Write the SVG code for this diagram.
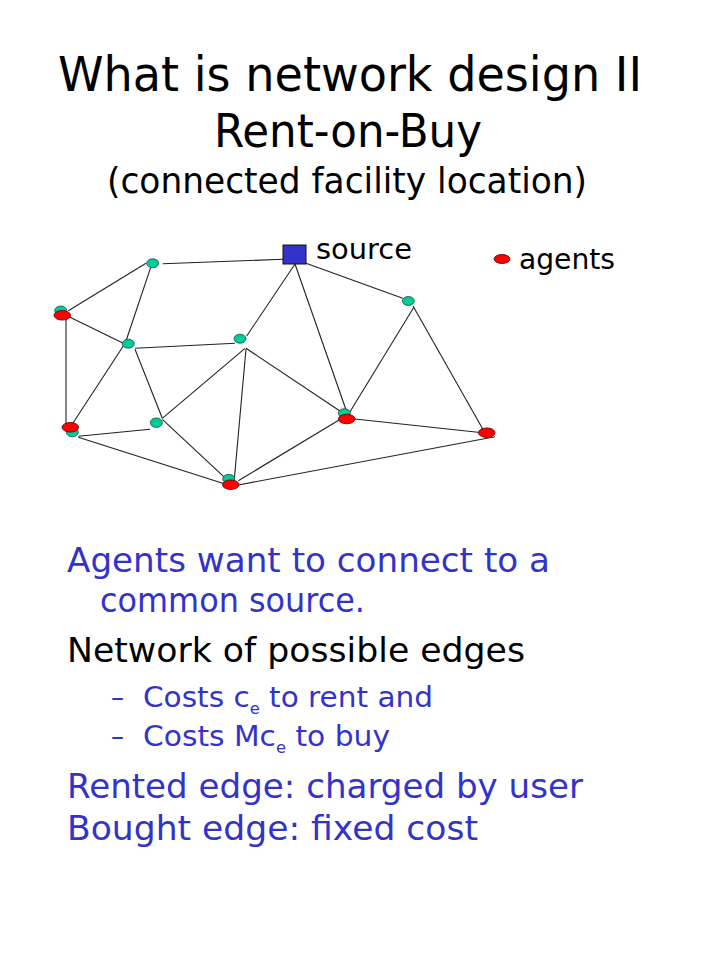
<svg xmlns="http://www.w3.org/2000/svg" width="720" height="960" viewBox="0 0 720 960">
<style>
  text { font-family: "DejaVu Sans", "Liberation Sans", sans-serif; }
  .title { fill: #000; }
  .blue { fill: #3333CC; }
  .black { fill: #000; }
  .edge { stroke: #222; stroke-width: 1.1; fill: none; }
  .g { fill: #00CC99; stroke: #1a4d3d; stroke-width: 0.8; }
  .r { fill: #FF0000; stroke: #550000; stroke-width: 0.8; }
  .src { fill: #3333CC; stroke: #111; stroke-width: 1; }
  .sub { font-size: 16px; }
</style>
<rect width="720" height="960" fill="#fff"/>

<g id="title">
  <text class="title" x="58" y="91" font-size="48" textLength="584" lengthAdjust="spacingAndGlyphs">What is network design II</text>
  <text class="title" x="214" y="147" font-size="46" textLength="268" lengthAdjust="spacingAndGlyphs">Rent-on-Buy</text>
  <text class="title" x="107" y="193" font-size="35" textLength="480" lengthAdjust="spacingAndGlyphs">(connected facility location)</text>
</g>

<g id="connectors">
  <line class="edge" x1="162.7" y1="263.7" x2="283" y2="259.3"/>
  <line class="edge" x1="68.3" y1="310.7" x2="146" y2="263.3"/>
  <line class="edge" x1="150.7" y1="267.3" x2="126" y2="341"/>
  <line class="edge" x1="70" y1="317.3" x2="123.3" y2="343.3"/>
  <line class="edge" x1="66" y1="317.3" x2="66" y2="425"/>
  <line class="edge" x1="135" y1="348.3" x2="235" y2="343.3"/>
  <line class="edge" x1="123.3" y1="346" x2="71.7" y2="425"/>
  <line class="edge" x1="135" y1="349.3" x2="162.3" y2="418.3"/>
  <line class="edge" x1="162.3" y1="418.3" x2="245" y2="348.3"/>
  <line class="edge" x1="162.3" y1="419.3" x2="226.7" y2="479.3"/>
  <line class="edge" x1="246" y1="349" x2="234.3" y2="479.3"/>
  <line class="edge" x1="246.7" y1="336" x2="295" y2="264"/>
  <line class="edge" x1="78.3" y1="436.3" x2="150" y2="429.3"/>
  <line class="edge" x1="78.3" y1="437.3" x2="222.7" y2="483.3"/>
  <line class="edge" x1="295" y1="264" x2="346.7" y2="411.7"/>
  <line class="edge" x1="246" y1="348.3" x2="343.3" y2="413.3"/>
  <line class="edge" x1="306" y1="263.3" x2="402.7" y2="298.3"/>
  <line class="edge" x1="414" y1="307" x2="350" y2="411.7"/>
  <line class="edge" x1="413" y1="306" x2="483.3" y2="430"/>
  <line class="edge" x1="355" y1="419" x2="487" y2="433.3"/>
  <line class="edge" x1="238.3" y1="480.7" x2="340.7" y2="419"/>
  <line class="edge" x1="238.3" y1="485" x2="495" y2="436.7"/>
</g>

<g id="source">
  <rect class="src" x="283" y="245" width="23" height="19"/>
  <text class="black" x="316" y="259" font-size="28" textLength="96" lengthAdjust="spacingAndGlyphs">source</text>
</g>
<g id="legend-agents">
  <ellipse class="r" cx="502" cy="259" rx="8" ry="4.5"/>
  <text class="black" x="519" y="269" font-size="28" textLength="96" lengthAdjust="spacingAndGlyphs">agents</text>
</g>

<g id="node-a"><ellipse class="g" cx="152.7" cy="263.3" rx="6" ry="4.5"/></g>
<g id="node-l1">
  <ellipse class="g" cx="60.7" cy="310.5" rx="6" ry="4.5"/>
  <ellipse class="r" cx="62.3" cy="315.3" rx="8.3" ry="4.8"/>
</g>
<g id="node-b"><ellipse class="g" cx="128.3" cy="343.7" rx="6" ry="4.5"/></g>
<g id="node-c"><ellipse class="g" cx="240" cy="338.7" rx="6" ry="4.5"/></g>
<g id="node-d"><ellipse class="g" cx="156.3" cy="422.7" rx="6" ry="4.8"/></g>
<g id="node-lb">
  <ellipse class="g" cx="72.3" cy="432.3" rx="6" ry="4.5"/>
  <ellipse class="r" cx="70.3" cy="427.3" rx="8.3" ry="4.8"/>
</g>
<g id="node-bottom">
  <ellipse class="g" cx="228.7" cy="478.8" rx="6" ry="4.5"/>
  <ellipse class="r" cx="230.7" cy="484.7" rx="8.3" ry="4.8"/>
</g>
<g id="node-e"><ellipse class="g" cx="408.3" cy="301" rx="6" ry="4.5"/></g>
<g id="node-f">
  <ellipse class="g" cx="344.3" cy="413.2" rx="6" ry="4.5"/>
  <ellipse class="r" cx="346.7" cy="419" rx="8.3" ry="4.8"/>
</g>
<g id="node-g"><ellipse class="r" cx="486.7" cy="432.7" rx="8.3" ry="4.8"/></g>

<g id="bullets">
  <text class="blue" x="67" y="572" font-size="33" textLength="483" lengthAdjust="spacingAndGlyphs">Agents want to connect to a</text>
  <text class="blue" x="100" y="612" font-size="33" textLength="265" lengthAdjust="spacingAndGlyphs">common source.</text>
  <text class="black" x="67" y="662" font-size="33" textLength="458" lengthAdjust="spacingAndGlyphs">Network of possible edges</text>

  <text class="blue" x="111" y="707" font-size="29" textLength="13" lengthAdjust="spacingAndGlyphs">–</text>
  <text class="blue" x="143" y="707" font-size="29" textLength="290" lengthAdjust="spacingAndGlyphs">Costs c<tspan class="sub" dy="7">e</tspan><tspan dy="-7"> to rent and</tspan></text>

  <text class="blue" x="111" y="746" font-size="29" textLength="13" lengthAdjust="spacingAndGlyphs">–</text>
  <text class="blue" x="143" y="746" font-size="29" textLength="247" lengthAdjust="spacingAndGlyphs">Costs Mc<tspan class="sub" dy="7">e</tspan><tspan dy="-7"> to buy</tspan></text>

  <text class="blue" x="67" y="798" font-size="33" textLength="516" lengthAdjust="spacingAndGlyphs">Rented edge: charged by user</text>
  <text class="blue" x="67" y="840" font-size="33" textLength="411" lengthAdjust="spacingAndGlyphs">Bought edge: fixed cost</text>
</g>
</svg>
